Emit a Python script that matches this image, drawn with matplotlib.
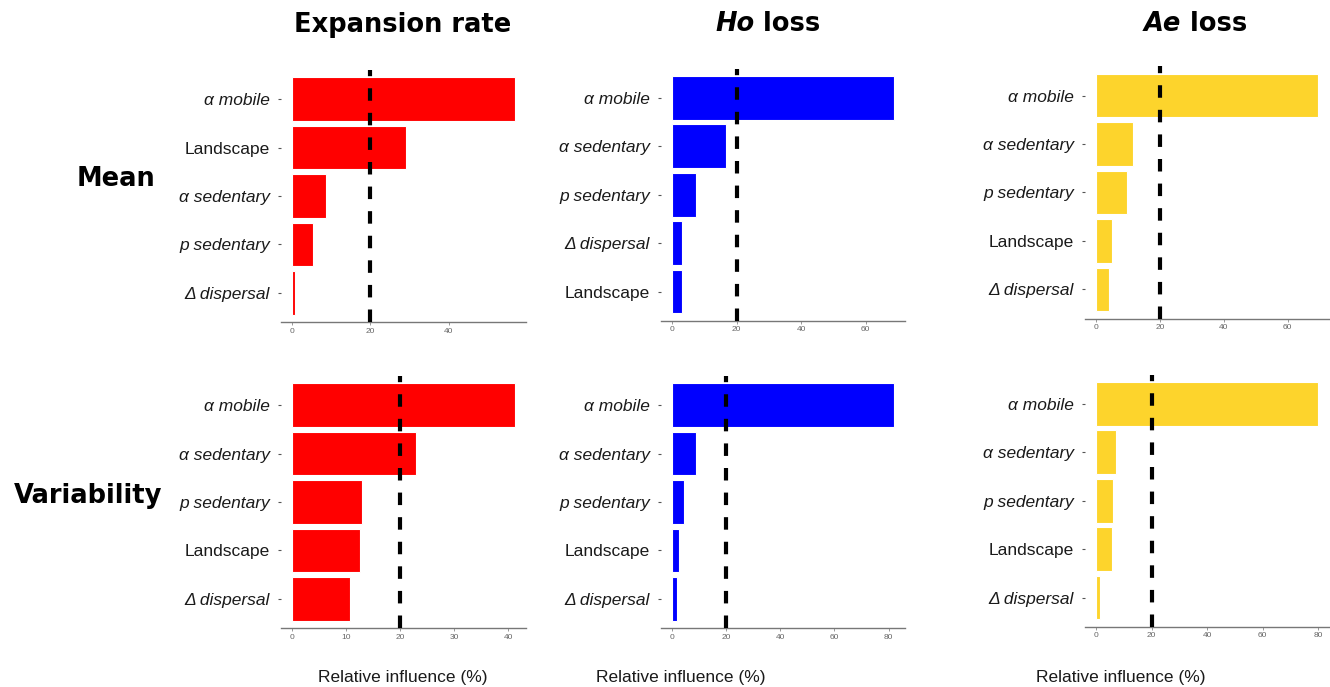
import matplotlib
matplotlib.use("Agg")
import matplotlib.pyplot as plt

W, H = 1330, 687

# Relative influence (%) of each predictor, listed top to bottom
exp_mean_labels = ["α mobile", "Landscape", "α sedentary", "p sedentary", "Δ dispersal"]
exp_mean_values = [56.9, 29.0, 8.6, 5.4, 0.6]

ho_mean_labels = ["α mobile", "α sedentary", "p sedentary", "Δ dispersal", "Landscape"]
ho_mean_values = [68.9, 16.7, 7.4, 3.2, 3.1]

ae_mean_labels = ["α mobile", "α sedentary", "p sedentary", "Landscape", "Δ dispersal"]
ae_mean_values = [69.7, 11.4, 9.5, 4.9, 4.0]

exp_var_labels = ["α mobile", "α sedentary", "p sedentary", "Landscape", "Δ dispersal"]
exp_var_values = [41.2, 23.0, 13.0, 12.6, 10.7]

ho_var_labels = ["α mobile", "α sedentary", "p sedentary", "Landscape", "Δ dispersal"]
ho_var_values = [82.1, 9.0, 4.4, 2.6, 1.7]

ae_var_labels = ["α mobile", "α sedentary", "p sedentary", "Landscape", "Δ dispersal"]
ae_var_values = [80.1, 7.3, 6.0, 5.6, 1.4]

ticks_exp_mean = [0, 20, 40]
ticks_ho_mean = [0, 20, 40, 60]
ticks_ae_mean = [0, 20, 40, 60]
ticks_exp_var = [0, 10, 20, 30, 40]
ticks_ho_var = [0, 20, 40, 60, 80]
ticks_ae_var = [0, 20, 40, 60, 80]

threshold = 20

col_titles = [("", "Expansion rate"), ("Ho", " loss"), ("Ae", " loss")]
row_titles = ["Mean", "Variability"]
xlabel = "Relative influence (%)"

RED = "#FF0000"
BLUE = "#0000FF"
GOLD = "#FDD42C"

fig = plt.figure(figsize=(W / 100, H / 100), dpi=100)
fig.patch.set_facecolor("white")


def rect(left, top, width, height):
    return [left / W, 1 - (top + height) / H, width / W, height / H]


def panel(pos, labels, values, ticks, color):
    ax = fig.add_axes(rect(*pos))
    n = len(values)
    ypos = list(range(n, 0, -1))
    ax.barh(ypos, values, height=0.9, color=color, edgecolor="#FFFFFF",
            linewidth=0.8, zorder=2)
    m = max(values)
    ax.set_xlim(-0.05 * m, 1.05 * m)
    ax.set_ylim(0.4, n + 0.6)
    ax.plot([threshold, threshold], [0.4, n + 0.6], color="black",
            linewidth=3.0, dashes=(3.0, 2.9), solid_capstyle="butt",
            dash_capstyle="butt", zorder=3, clip_on=False)
    ax.set_yticks(ypos)
    ax.set_yticklabels(labels)
    for lab in ax.get_yticklabels():
        style = "normal" if lab.get_text() == "Landscape" else "italic"
        lab.set_fontstyle(style)
        lab.set_fontfamily("Liberation Sans")
        lab.set_fontsize(12.5)
        lab.set_color("#1A1A1A")
    ax.set_xticks(ticks)
    ax.set_xticklabels([str(t) for t in ticks], fontsize=6,
                       color="#666666", fontfamily="Liberation Sans")
    ax.tick_params(axis="y", length=2.5, width=0.8, color="#555555", pad=5.5)
    ax.tick_params(axis="x", length=2, width=0.6, color="#888888", pad=2)
    for s in ["top", "right", "left"]:
        ax.spines[s].set_visible(False)
    ax.spines["bottom"].set_color("#777777")
    ax.spines["bottom"].set_linewidth(1.0)
    ax.set_facecolor("white")
    return ax


pw = 244.5
ph = 252
panel((281.2, 70, pw, ph), exp_mean_labels, exp_mean_values, ticks_exp_mean, RED)
panel((660.9, 68.7, pw, ph), ho_mean_labels, ho_mean_values, ticks_ho_mean, BLUE)
panel((1085.1, 66.5, pw, ph), ae_mean_labels, ae_mean_values, ticks_ae_mean, GOLD)
panel((281.2, 376, pw, ph), exp_var_labels, exp_var_values, ticks_exp_var, RED)
panel((660.9, 376, pw, ph), ho_var_labels, ho_var_values, ticks_ho_var, BLUE)
panel((1085.1, 374.7, pw, ph), ae_var_labels, ae_var_values, ticks_ae_var, GOLD)

title_kw = dict(fontsize=18.5, fontweight="bold", fontfamily="DejaVu Sans",
                color="black", va="baseline")

# Column headings: an italic part followed by an upright part, centred together
renderer = fig.canvas.get_renderer()
for cx, base, (ital, rest) in zip([403, 768, 1195], [32, 31, 31], col_titles):
    y = 1 - base / H
    t1 = fig.text(0, y, ital, ha="left", fontstyle="italic", **title_kw)
    t2 = fig.text(0, y, rest, ha="left", **title_kw)
    w1 = t1.get_window_extent(renderer).width if ital else 0.0
    w2 = t2.get_window_extent(renderer).width
    x0 = cx - (w1 + w2) / 2
    t1.set_x(x0 / W)
    t2.set_x((x0 + w1) / W)

# Row headings
fig.text(116 / W, 1 - 186 / H, row_titles[0], ha="center", **title_kw)
fig.text(88 / W, 1 - 503 / H, row_titles[1], ha="center", **title_kw)

# Axis titles under the bottom row
for cx in [403, 681, 1121]:
    fig.text(cx / W, 1 - 682 / H, xlabel, ha="center", va="baseline",
             fontsize=12.5, fontfamily="Liberation Sans", color="#1A1A1A")

fig.savefig("out.png", dpi=100, facecolor="white")
